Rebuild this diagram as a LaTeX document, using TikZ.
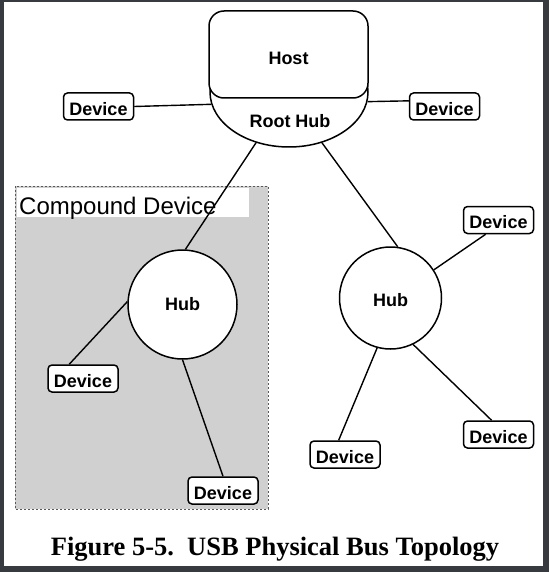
\documentclass[tikz,border=0pt]{standalone}
\usepackage{fontspec}
\setmainfont{Liberation Serif}
\newfontfamily\arialfont{Liberation Sans}
\usetikzlibrary{shapes.geometric}
\definecolor{framegray}{RGB}{55,58,62}
\definecolor{boxgray}{RGB}{208,208,208}

\begin{document}
\begin{tikzpicture}[x=1pt,y=-1pt,
        every node/.style={font=\arialfont\fontsize{18}{20}\selectfont\bfseries},
        device/.style={draw,line width=1.5pt,rounded corners=4pt,fill=white,minimum width=70pt,minimum height=27pt,inner sep=0pt,text height=18pt},
        hub/.style={draw,circle,line width=1.5pt,fill=white,inner sep=0pt},
        link/.style={line width=1.4pt}]
        \useasboundingbox (0,0) rectangle (549,572);
        \fill [framegray] (0,0) rectangle (549,572);
        \fill [white] (4,2) rectangle (543,566);
        \node [draw,ellipse,line width=1.5pt,fill=white,minimum width=158pt,minimum height=110pt,inner sep=0pt] (root) at (289,92) {};
        \node [draw,line width=1.5pt,rounded corners=15pt,fill=white,minimum width=159pt,minimum height=87pt,inner sep=0pt,text height=21pt] (host) at (288.5,54.5) {Host};
        \node (roottext) at (290,121) {Root Hub};
        \node [device] (devTL) at (98.5,106.5) {Device};
        \node [device] (devTR) at (444.5,106.5) {Device};
        \filldraw [fill=boxgray,draw=gray!70!black,line width=0.8pt,dash pattern=on 2pt off 2pt] (15,186) rectangle (268,509);
        \fill [white] (17,188) rectangle (249,217);
        \node [anchor=base west,inner sep=0pt,font=\arialfont\fontsize{24}{26}\selectfont] (cdlabel) at (19,214) {Compound Device};
        \node [hub,minimum size=109pt] (hubL) at (182.5,304.5) {Hub};
        \node [hub,minimum size=102pt,text height=17pt] (hubR) at (390.5,298) {Hub};
        \node [device] (devC1) at (83,378.5) {Device};
        \node [device] (devC2) at (223,490.5) {Device};
        \node [device] (devR1) at (498.5,220) {Device};
        \node [device] (devR2) at (498.5,434.5) {Device};
        \node [device] (devR3) at (345,454.5) {Device};
        \draw [link] (devTL.east) -- (root.189);
        \draw [link] (devTR.171) -- (root.353);
        \draw [link] (root.237) -- (hubL.87);
        \draw [link] (root.303) -- (hubR.82);
        \draw [link] (hubL.177) -- (devC1.134);
        \draw [link] (hubL.270) -- (devC2.north);
        \draw [link] (hubR.33) -- (devR1.228);
        \draw [link] (hubR.296) -- (devR2.116);
        \draw [link] (hubR.255) -- (devR3.114);
        \node [anchor=base,font=\fontsize{26.5}{30}\selectfont\bfseries] (caption) at (275,555) {Figure 5-5.\ \ USB Physical Bus Topology};
\end{tikzpicture}
\end{document}
